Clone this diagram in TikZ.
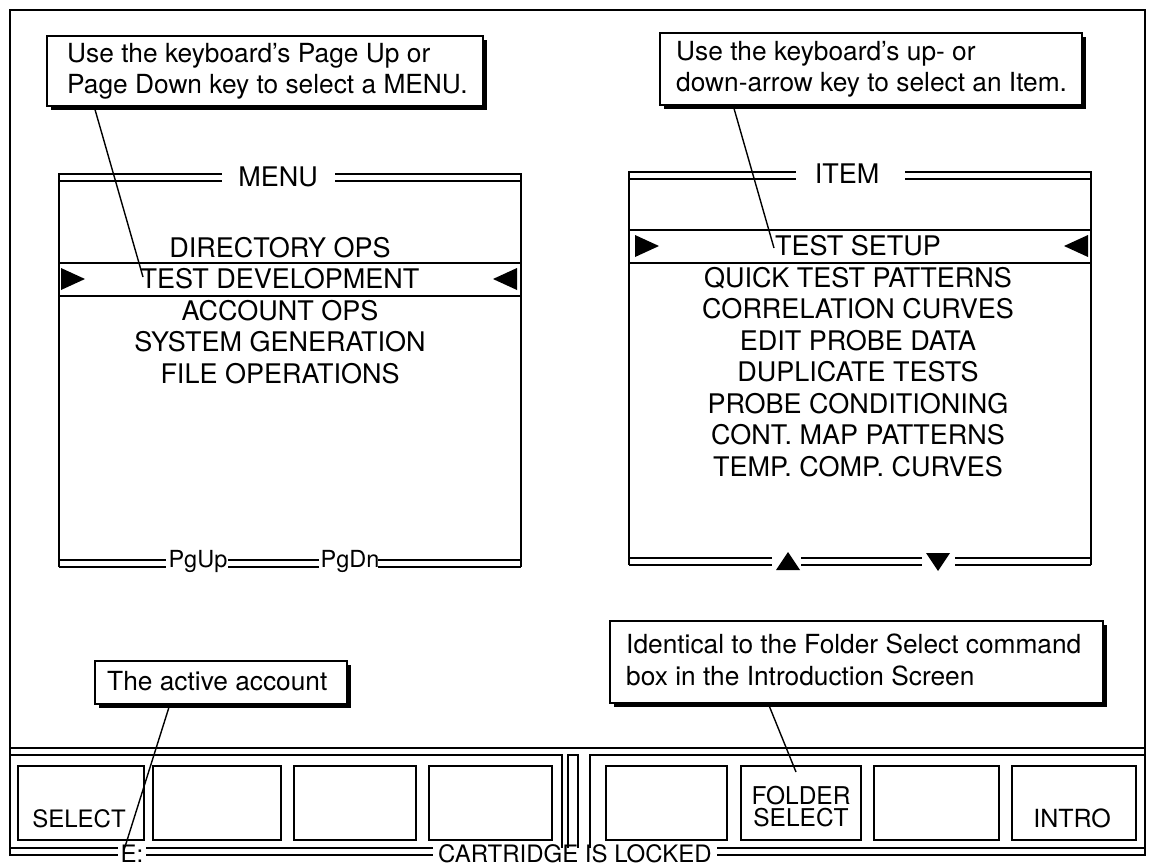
\documentclass[tikz,border=0pt]{standalone}
\usepackage{fontspec}
\setmainfont{TeX Gyre Heros}
\usetikzlibrary{shadows}
\tikzset{
  frm/.style={line width=2.6pt},
  thk/.style={line width=2.4pt},
  thn/.style={line width=1.6pt},
  itm/.style={inner sep=0pt, anchor=base, font=\fontsize{27}{29}\selectfont},
  lbl/.style={inner sep=0pt, anchor=base, font=\fontsize{23.5}{25}\selectfont},
  btxt/.style={inner sep=0pt, anchor=base, font=\fontsize{24}{26}\selectfont},
  ntxt/.style={inner sep=0pt, anchor=base west, font=\fontsize{26.3}{28}\selectfont},
  callbox/.style={draw, fill=white, line width=1.8pt, inner sep=0pt, anchor=north west,
    drop shadow={shadow xshift=4pt, shadow yshift=-4pt, fill=black, opacity=1}},
  btn/.style={draw, line width=2.2pt, inner sep=0pt, anchor=north west},
  conn/.style={line width=1.4pt},
  tri/.style={fill=black},
}
\begin{document}
\begin{tikzpicture}[x=1pt,y=-1pt]
\useasboundingbox (0,0) rectangle (1150,865);
% outer frame
\draw[frm] (10,856) -- (10,10) -- (1145,10) -- (1145,856);

% ---------- MENU box ----------
\draw[thk] (59,567) -- (59,174) -- (222,174);
\draw[thk] (335,174) -- (521,174) -- (521,567);
\draw[thn] (59,181) -- (222,181);
\draw[thn] (335,181) -- (521,181);
\node[itm] (menut) at (278,186) {MENU};
\draw[thn] (59,560) -- (166,560);
\draw[thk] (59,567) -- (166,567);
\draw[thn] (228,560) -- (319,560);
\draw[thk] (228,567) -- (319,567);
\draw[thn] (378,560) -- (521,560);
\draw[thk] (378,567) -- (521,567);
\node[lbl] (pgup) at (198,567) {PgUp};
\node[lbl] (pgdn) at (350,567) {PgDn};
% highlight
\draw[thk] (59,263) -- (521,263);
\draw[thk] (59,296) -- (521,296);
\fill[tri] (61,268) -- (85,279) -- (61,290) -- cycle;
\fill[tri] (517,268) -- (493,279) -- (517,290) -- cycle;
\node[itm] (m1) at (280,257) {DIRECTORY OPS};
\node[itm] (m2) at (280,288) {TEST DEVELOPMENT};
\node[itm] (m3) at (280,320) {ACCOUNT OPS};
\node[itm] (m4) at (280,351) {SYSTEM GENERATION};
\node[itm] (m5) at (280,383) {FILE OPERATIONS};

% ---------- ITEM box ----------
\draw[thk] (629,565) -- (629,172) -- (796,172);
\draw[thk] (905,172) -- (1091,172) -- (1091,565);
\draw[thn] (629,179) -- (796,179);
\draw[thn] (905,179) -- (1091,179);
\node[itm] (itemt) at (847,183) {ITEM};
\draw[thn] (629,558) -- (772,558);
\draw[thk] (629,565) -- (772,565);
\draw[thn] (801,558) -- (922,558);
\draw[thk] (801,565) -- (922,565);
\draw[thn] (955,558) -- (1091,558);
\draw[thk] (955,565) -- (1091,565);
\fill[tri] (776,570) -- (788,552) -- (800,570) -- cycle;
\fill[tri] (926,553) -- (938,571) -- (950,553) -- cycle;
\draw[thk] (629,230) -- (1091,230);
\draw[thk] (629,263) -- (1091,263);
\fill[tri] (635,235) -- (659,246) -- (635,257) -- cycle;
\fill[tri] (1088,235) -- (1064,246) -- (1088,257) -- cycle;
\node[itm] (i1) at (858,255) {TEST SETUP};
\node[itm] (i2) at (858,287) {QUICK TEST PATTERNS};
\node[itm] (i3) at (858,318) {CORRELATION CURVES};
\node[itm] (i4) at (858,350) {EDIT PROBE DATA};
\node[itm] (i5) at (858,381) {DUPLICATE TESTS};
\node[itm] (i6) at (858,413) {PROBE CONDITIONING};
\node[itm] (i7) at (858,444) {CONT. MAP PATTERNS};
\node[itm] (i8) at (858,476) {TEMP. COMP. CURVES};

% ---------- bottom panel ----------
\draw[thk] (10,748) -- (1145,748);
\draw[thn] (10,755) -- (562,755) -- (562,848);
\draw[thn] (568,848) -- (568,755) -- (578,755) -- (578,848);
\draw[thn] (1145,755) -- (590,755) -- (590,848);
\draw[thn] (10,848) -- (118,848);
\draw[thk] (10,855) -- (118,855);
\draw[thn] (146,848) -- (433,848);
\draw[thk] (146,855) -- (433,855);
\draw[thn] (717,848) -- (1145,848);
\draw[thk] (717,855) -- (1145,855);
\node[btxt] (ea) at (132,862) {E:};
\node[btxt] (cart) at (575,862) {CARTRIDGE IS LOCKED};

\node[btn, minimum width=126pt, minimum height=74pt] (b1) at (17,765) {};
\node[btn, minimum width=128pt, minimum height=74pt] (b2) at (152,765) {};
\node[btn, minimum width=122pt, minimum height=74pt] (b3) at (293,765) {};
\node[btn, minimum width=123pt, minimum height=74pt] (b4) at (428,765) {};
\node[btn, minimum width=121pt, minimum height=74pt] (b5) at (605,765) {};
\node[btn, minimum width=120pt, minimum height=74pt] (b6) at (740,765) {};
\node[btn, minimum width=125pt, minimum height=74pt] (b7) at (873,765) {};
\node[btn, minimum width=124pt, minimum height=74pt] (b8) at (1011,765) {};
\node[btxt] (sel) at (79,827) {SELECT};
\node[inner sep=0pt, align=center, font=\fontsize{24.5}{22.5}\selectfont] (fold) at (801,806.5) {FOLDER\\SELECT};
\node[btxt, font=\fontsize{25}{26}\selectfont] (intro) at (1072,827) {INTRO};

% ---------- callouts ----------
\node[callbox, minimum width=436pt, minimum height=70pt] (n1) at (46,35) {};
\node[ntxt] (n1a) at (67,62) {Use the keyboard's Page Up or};
\node[ntxt] (n1b) at (67,93) {Page Down key to select a MENU.};

\node[callbox, minimum width=422pt, minimum height=72pt] (n2) at (659,32) {};
\node[ntxt] (n2a) at (676,60) {Use the keyboard's up- or};
\node[ntxt] (n2b) at (676,91) {down-arrow key to select an Item.};

\node[callbox, minimum width=252pt, minimum height=43pt] (n3) at (94,660) {};
\node[ntxt] (n3a) at (107,690) {The active account};

\node[callbox, minimum width=493pt, minimum height=82pt] (n4) at (609,620) {};
\node[ntxt] (n4a) at (626,653) {Identical to the Folder Select command};
\node[ntxt] (n4b) at (626,685) {box in the Introduction Screen};

% connectors
\coordinate (c1s) at (94,106);
\coordinate (c1e) at (143,277);
\coordinate (c2s) at (733,105);
\coordinate (c2e) at (774,248);
\coordinate (c3s) at (170,704);
\coordinate (c3e) at (124,850);
\coordinate (c4s) at (768,703);
\coordinate (c4e) at (796,772);
\draw[conn] (c1s) -- (c1e);
\draw[conn] (c2s) -- (c2e);
\draw[conn] (c3s) -- (c3e);
\draw[conn] (c4s) -- (c4e);
\end{tikzpicture}
\end{document}
